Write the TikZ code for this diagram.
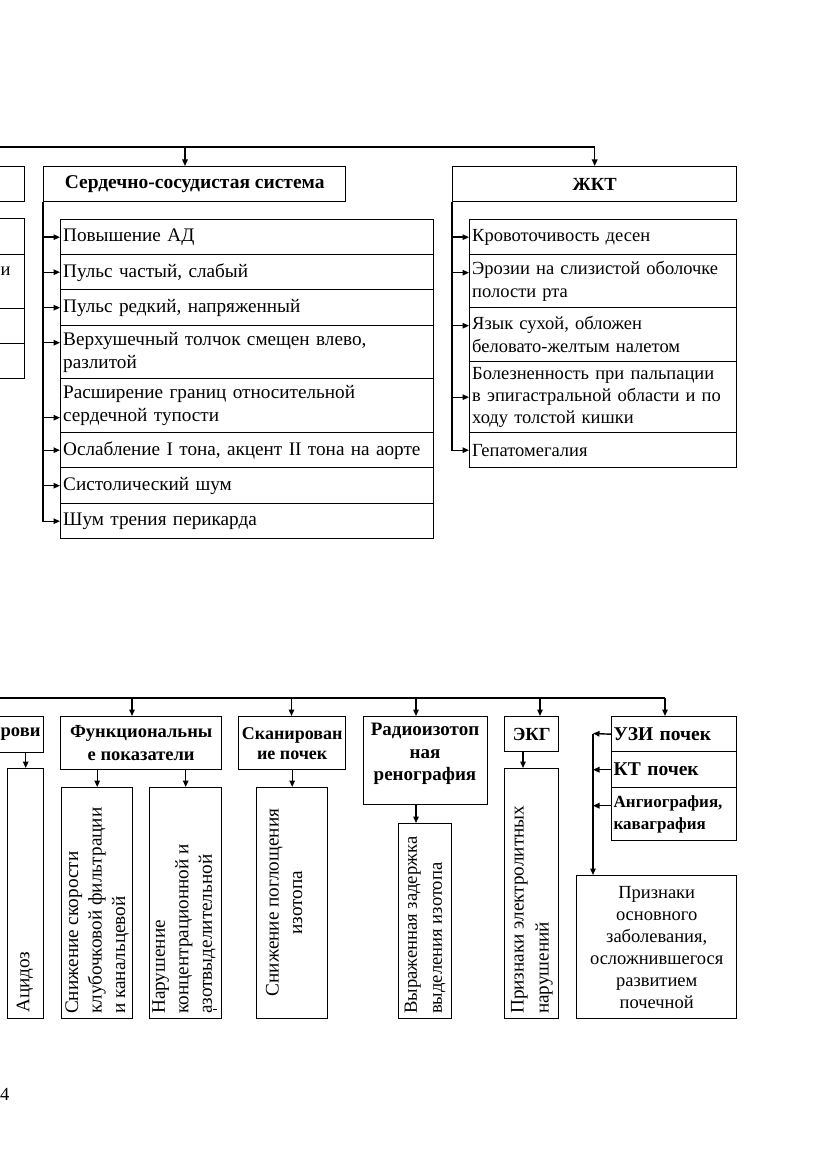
\documentclass[tikz,border=0pt]{standalone}
\usepackage{fontspec}
\setmainfont{Liberation Serif}
\usetikzlibrary{arrows.meta}
\begin{document}
\begin{tikzpicture}[x=1pt,y=-1pt,
  bx/.style={draw, line width=1.4pt, inner sep=0pt, anchor=north west},
  arr/.style={line width=1.4pt, -{Triangle[length=6.5pt,width=5.5pt]}},
  ln/.style={line width=1.4pt},
  txt/.style={font=\fontsize{18.5}{23}\selectfont},
  hd/.style={font=\fontsize{18.5}{22.5}\selectfont\bfseries},
  hdl/.style={font=\fontsize{19.5}{23}\selectfont\bfseries},
  hds/.style={font=\fontsize{17}{22}\selectfont\bfseries},
  row/.style={bx, align=left, text width=#1, inner xsep=2.5pt, font=\fontsize{19.2}{23}\selectfont},
  rowj/.style={bx, align=left, text width=#1, inner xsep=2.5pt, font=\fontsize{18.5}{23}\selectfont},
  rot/.style={rotate=90, inner sep=0pt, align=left, font=\fontsize{19.2}{23.5}\selectfont},
]
\useasboundingbox (0,0) rectangle (831,1174);

% ---------------- top part ----------------
\node[bx, minimum width=27pt, minimum height=35pt] (lf) at (-3,166) {};
\node[bx, minimum width=27pt, minimum height=36pt] (l1) at (-3,218) {};
\node[bx, minimum width=27pt, minimum height=54pt] (l2) at (-3,254) {};
\node[bx, minimum width=27pt, minimum height=35pt] (l3) at (-3,308) {};
\node[bx, minimum width=27pt, minimum height=35pt] (l4) at (-3,343) {};
\node[txt, anchor=west, inner sep=0pt] (l2t) at (0.5,271) {и};

\node[bx, minimum width=302pt, minimum height=35pt, hdl] (cvs) at (43,166) {Сердечно-сосудистая система};
\node[bx, minimum width=284pt, minimum height=35pt, hd] (jkt) at (452,166) {ЖКТ};

\coordinate (tL) at (-3,147);
\coordinate (tJ) at (185,147);
\draw[ln] (tL) -- (tJ);
\draw[arr] (tJ) -- (tJ |- cvs.north);
\draw[arr] (tJ) -| (jkt.north);

\node[row=368pt, minimum height=35pt] (c1) at (60,219) {Повышение АД};
\node[row=368pt, minimum height=35pt] (c2) at (60,254) {Пульс частый, слабый};
\node[row=368pt, minimum height=36pt] (c3) at (60,289) {Пульс редкий, напряженный};
\node[row=368pt, minimum height=53pt] (c4) at (60,325) {Верхушечный толчок смещен влево,\\разлитой};
\node[row=368pt, minimum height=54pt] (c5) at (60,378) {Расширение границ относительной\\сердечной тупости};
\node[row=368pt, minimum height=35pt] (c6) at (60,432) {\mbox{Ослабление I тона, акцент II тона на аорте}};
\node[row=368pt, minimum height=36pt] (c7) at (60,467) {Систолический шум};
\node[row=368pt, minimum height=35pt] (c8) at (60,503) {Шум трения перикарда};

\coordinate (c4a) at ([yshift=9.5pt]c4.west);
\coordinate (c5a) at ([yshift=-12pt]c5.west);
\draw[arr] (cvs.south west) |- (c8.west);
\foreach \n in {c1,c2,c3,c6,c7,c4a,c5a}{\draw[arr] (cvs.south west |- \n) -- (\n);}

\node[rowj=262pt, minimum height=35pt] (j1) at (469,219) {Кровоточивость десен};
\node[rowj=262pt, minimum height=53pt] (j2) at (469,254) {\mbox{Эрозии на слизистой оболочке}\\полости рта};
\node[rowj=262pt, minimum height=54pt] (j3) at (469,307) {Язык сухой, обложен\\беловато-желтым налетом};
\node[rowj=262pt, minimum height=71pt, font=\fontsize{18.5}{22}\selectfont] (j4) at (469,361) {\mbox{Болезненность при пальпации}\\\mbox{в эпигастральной области и по}\\ходу толстой кишки};
\node[rowj=262pt, minimum height=35pt] (j5) at (469,432) {Гепатомегалия};

\coordinate (j2a) at ([yshift=8.5pt]j2.west);
\coordinate (j3a) at ([yshift=9pt]j3.west);
\draw[arr] (jkt.south west) |- (j5.west);
\foreach \n in {j1,j4,j2a,j3a}{\draw[arr] (jkt.south west |- \n) -- (\n);}

% ---------------- bottom part ----------------
\coordinate (bL) at (-3,698);
\coordinate (b1) at (132,698);
\coordinate (b2) at (291.5,698);
\coordinate (b3) at (416,698);
\coordinate (b4) at (540,698);
\coordinate (b5) at (665,698);
\draw[ln] (bL) -- (b5);

\node[bx, minimum width=46pt, minimum height=36pt] (krv) at (-3,716) {};
\node[hd, anchor=west, inner sep=0pt] (krvt) at (0.5,734) {рови};
\node[bx, minimum width=36pt, minimum height=250pt] (acid) at (7,768) {};
\node[rot, anchor=west] (acidt) at (25,1013) {Ацидоз};
\draw[arr] (krv.south -| acid.north) -- (acid.north);

\node[bx, minimum width=161pt, minimum height=53pt, align=center, hd] (func) at (60,716) {Функциональны\\е показатели};
\node[bx, minimum width=107pt, minimum height=53pt, align=center, font=\fontsize{18}{20}\selectfont\bfseries] (scan) at (238,716) {Сканирован\\ие почек};
\node[bx, minimum width=124pt, minimum height=88pt] (radio) at (363,716) {};
\node[align=center, anchor=north, inner sep=0pt, font=\fontsize{19}{22.5}\selectfont\bfseries] (radiot) at (425,723) {Радиоизотоп\\ная\\ренография};
\node[bx, minimum width=54pt, minimum height=35pt, hd] (ekg) at (504,716) {ЭКГ};

\node[bx, minimum width=125pt, minimum height=35pt, font=\fontsize{19.5}{23}\selectfont\bfseries, align=left, text width=121pt, inner xsep=2pt] (u1) at (611,716) {УЗИ почек};
\node[bx, minimum width=125pt, minimum height=36pt, font=\fontsize{19.5}{23}\selectfont\bfseries, align=left, text width=121pt, inner xsep=2pt] (u2) at (611,751) {КТ почек};
\node[bx, minimum width=125pt, minimum height=53pt, hds, align=left, text width=121pt, inner xsep=2pt] (u3) at (611,787) {Ангиография,\\каваграфия};

\draw[arr] (b1) -- (b1 |- func.north);
\draw[arr] (b2) -- (b2 |- scan.north);
\draw[arr] (b3) -- (b3 |- radio.north);
\draw[arr] (b4) -- (b4 |- ekg.north);
\draw[arr] (b5) -- (b5 |- u1.north);

% children
\node[bx, minimum width=71pt, minimum height=231pt] (k1) at (61,787) {};
\node[bx, minimum width=72pt, minimum height=231pt] (k2) at (149,787) {};
\node[bx, minimum width=71pt, minimum height=231pt] (k3) at (256,787) {};
\node[bx, minimum width=53pt, minimum height=195pt] (k4) at (398,823) {};
\node[bx, minimum width=54pt, minimum height=250pt] (k5) at (504,768) {};
\node[bx, minimum width=160pt, minimum height=143pt, align=center, font=\fontsize{18.5}{22}\selectfont] (prz) at (576,875) {Признаки\\основного\\заболевания,\\осложнившегося\\развитием\\почечной};

\node[rot, anchor=west] (k1t) at (97,1014) {Снижение скорости\\клубочковой фильтрации\\и канальцевой};
\node[rot, anchor=west] (k2t) at (184,1014) {Нарушение\\концентрационной и\\азотвыделительной};
\draw[line width=0.9pt] (213,1009) -- (217,1009);
\node[rot, align=center] (k3t) at (284,902.5) {Снижение поглощения\\изотопа};
\node[rot, anchor=west, font=\fontsize{18.6}{25}\selectfont] (k4t) at (425,1014) {Выраженная задержка\\выделения изотопа};
\node[rot, anchor=west, font=\fontsize{19.2}{25}\selectfont] (k5t) at (532,1014) {Признаки электролитных\\нарушений};

\draw[arr] (func.south -| k1.north) -- (k1.north);
\draw[arr] (func.south -| k2.north) -- (k2.north);
\draw[arr] (scan.south -| k3.north) -- (k3.north);
\coordinate (r4) at (416,804);
\draw[arr] (r4) -- (r4 |- k4.north);
\coordinate (e5) at (523,751);
\draw[arr] (e5) -- (e5 |- k5.north);

\coordinate (vl) at (593,733.5);
\draw[arr] (u1.west) -- (vl);
\draw[arr] (u2.west) -- (u2.west -| vl);
\coordinate (u3a) at ([yshift=8.5pt]u3.west);
\draw[arr] (u3a) -- (u3a -| vl);
\draw[arr] (vl) -- (vl |- prz.north);

\node[txt, anchor=west, inner sep=0pt] (pg) at (0,1094) {4};
\end{tikzpicture}
\end{document}
